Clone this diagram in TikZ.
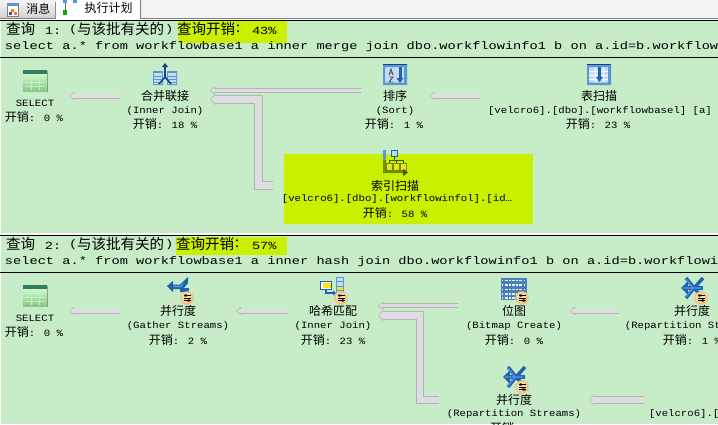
\documentclass[tikz,border=0pt]{standalone}
\usepackage{fontspec}
\usetikzlibrary{arrows.meta,calc}
\newfontfamily\cjkf{Noto Sans CJK SC}
\newfontfamily\monoA[FakeStretch=1.25]{Liberation Mono}
\newfontfamily\monoB[FakeStretch=1.11]{Liberation Mono}
\newcommand{\hd}{\cjkf\fontsize{14.5}{15}\selectfont}
\newcommand{\nm}{\cjkf\fontsize{12}{13}\selectfont}
\newcommand{\ma}{\monoA\fontsize{10.93}{11}\selectfont}
\newcommand{\mb}{\monoB\fontsize{9.6}{10}\selectfont}
\newcommand{\costtxt}[1]{{\nm 开销}{\mb: #1 \%}}
\definecolor{panel}{HTML}{C6ECC8}
\definecolor{hilite}{HTML}{C9F000}
\definecolor{arrfill}{HTML}{DEDEE2}
\definecolor{arredge}{HTML}{B4B4B4}
\definecolor{bluedk}{HTML}{1F62B0}
\definecolor{bluemd}{HTML}{5C96D8}
\definecolor{bluelt}{HTML}{C4DCF4}
\definecolor{badgeo}{HTML}{EFC480}
\definecolor{badgel}{HTML}{F8DDA8}
\definecolor{olive}{HTML}{6E8C00}
\definecolor{tblgrn}{HTML}{2F7F5F}
\tikzset{
  x=1pt,y=-1pt,
  txt/.style={inner sep=0pt,outer sep=0pt,text=black},
  oplabel/.style={inner sep=0pt,outer sep=0pt,text=black,font=\nm,minimum height=4pt},
  arrowthin/.style={draw=arredge,line width=5pt,-{Triangle[length=5pt,width=8pt]},
    postaction={draw=arrfill,line width=3.2pt,shorten >=0.8pt,-{Triangle[length=3.5pt,width=5pt]}}},
  arrowthick/.style={draw=arredge,line width=8.5pt,miter limit=10,-{Triangle[length=5pt,width=11pt]},
    postaction={draw=arrfill,line width=6.5pt,miter limit=10,shorten >=0.8pt,-{Triangle[length=4pt,width=8pt]}}},
}
% icons: x,y = top-left
\newcommand{\icotable}[2]{\begin{scope}[shift={(#1,#2)}]
  \fill[black!35!panel] (1,1) rectangle (25,22);
  \fill[top color=green!12!white,bottom color=green!50!black!45!white] (0,0) rectangle (24,21);
  \fill[tblgrn] (0,0) rectangle (24,4);
  \draw[white!70!green,line width=.5pt] (2,8)--(22,8) (2,12)--(22,12) (2,16)--(22,16) (8,4)--(8,20) (16,4)--(16,20);
\end{scope}}
\newcommand{\icomerge}[2]{\begin{scope}[shift={(#1,#2)}]
  \fill[bluemd] (0,8) rectangle (10,22) (14,8) rectangle (24,22);
  \fill[bluelt] (1,10) rectangle (9,21) (15,10) rectangle (23,21);
  \draw[bluemd,line width=.8pt] (1,13)--(9,13) (1,16)--(9,16) (1,19)--(9,19) (15,13)--(23,13) (15,16)--(23,16) (15,19)--(23,19);
  \draw[bluedk!70!black,line width=1.6pt] (6,21)--(12,14)--(18,21);
  \draw[bluedk!70!black,line width=1.6pt,-{Triangle[length=4pt,width=6pt]}] (12,14)--(12,0);
\end{scope}}
\newcommand{\icosort}[2]{\begin{scope}[shift={(#1,#2)}]
  \fill[bluelt] (0,0) rectangle (24,21);
  \fill[bluemd] (0,0) rectangle (24,3) (0,0) rectangle (2,21) (21,0) rectangle (24,21) (0,18.5) rectangle (24,21);
  \fill[bluedk!70!black] (0,0) rectangle (24,1);
  \fill[bluedk] (15.5,3) rectangle (18.5,15);
  \fill[bluedk] (13.5,14)--(20.5,14)--(17,19)--cycle;
  \draw[black!70,line width=.9pt] (6,11)--(8,5)--(10,11) (7,9)--(9,9) (6,13)--(10,13)--(6,18)--(10,18);
\end{scope}}
\newcommand{\icoscan}[2]{\begin{scope}[shift={(#1,#2)}]
  \fill[bluelt] (0,0) rectangle (24,21);
  \fill[bluemd] (0,0) rectangle (24,3) (0,0) rectangle (2,21) (21,0) rectangle (24,21) (0,18.5) rectangle (24,21);
  \fill[bluedk!70!black] (0,0) rectangle (24,1);
  \draw[white,line width=.6pt] (2,7)--(21,7) (2,11)--(21,11) (2,15)--(21,15) (8,3)--(8,18) (16,3)--(16,18);
  \fill[bluedk] (11,3) rectangle (14,14);
  \fill[bluedk] (9,13)--(16,13)--(12.5,18)--cycle;
\end{scope}}
\newcommand{\icoindex}[2]{\begin{scope}[shift={(#1,#2)}]
  \fill[bluemd] (0,0) rectangle (3,10);
  \fill[olive] (0,10) rectangle (3,23) (0,20) rectangle (22,23);
  \fill[bluelt] (8,0) rectangle (14,6);
  \draw[bluedk,line width=.5pt] (8,0) rectangle (14,6);
  \draw[olive!60!black,line width=.8pt] (11,6)--(11,10) (6,13)--(6,10)--(20,10)--(20,13) (13,10)--(13,13);
  \fill[yellow!85!olive] (3,13) rectangle (9,20) (10,13) rectangle (16,20) (17,13) rectangle (23,20);
  \draw[olive,line width=.5pt] (3,13) rectangle (9,20) (10,13) rectangle (16,20) (17,13) rectangle (23,20);
  \fill[olive!60!black] (20,19)--(25,22.5)--(20,26)--cycle;
\end{scope}}
\newcommand{\badge}[2]{\begin{scope}[shift={(#1,#2)}]
  \fill[badgeo] (0,0) circle[radius=6.8pt];
  \fill[badgel] (-.5,-.5) circle[radius=5pt];
  \draw[black,line width=.9pt] (-3.5,-2.5)--(4,-2.5) (-3.5,0)--(4,0) (-3.5,2.5)--(4,2.5);
  \fill[black] (-2.5,-3.7) rectangle (-.5,-1.3) (.5,1.3) rectangle (2.5,3.7);
\end{scope}}
\newcommand{\icogather}[2]{\begin{scope}[shift={(#1,#2)}]
  \fill[bluedk] (0,9)--(6,4)--(6,7.5)--(13,7.5)--(21,0)--(21,6)--(16,12)--(6,12)--(6,15)--cycle;
  \fill[bluemd] (6,8.5)--(14,8.5)--(17,5)--(15,10)--(6,10)--cycle;
  \fill[bluedk] (13,11)--(22,11)--(22,15)--(13,15)--cycle;
\end{scope}}
\newcommand{\icohash}[2]{\begin{scope}[shift={(#1,#2)}]
  \fill[white] (0,4) rectangle (11,12);
  \fill[yellow!90!orange] (3,6) rectangle (11,11);
  \draw[bluedk,line width=.8pt] (0,4) rectangle (11,12);
  \draw[bluedk,line width=1.6pt,-{Triangle[length=3pt,width=5pt]}] (6,12)--(6,16)--(16,16);
  \fill[bluelt] (16,0) rectangle (23,20);
  \fill[yellow!95!black] (16,9) rectangle (23,13);
  \draw[bluemd,line width=.7pt] (16,0) rectangle (23,20) (16,4.5)--(23,4.5) (16,9)--(23,9) (16,13)--(23,13) (16,17)--(23,17);
\end{scope}}
\newcommand{\icobitmap}[2]{\begin{scope}[shift={(#1,#2)}]
  \fill[bluemd!85!black] (0,0) rectangle (26,22);
  \foreach \r in {2.5,7,11.5,16,20}{\draw[white!85!bluemd,line width=1.2pt,dash pattern=on 1.4pt off 1.4pt on 3pt off 1.4pt] (1,\r)--(25,\r);}
\end{scope}}
\newcommand{\icorepart}[2]{\begin{scope}[shift={(#1,#2)}]
  \draw[bluedk,line width=3.4pt] (5,0)--(13,10)--(5,20) (22,0)--(13,10)--(22,20);
  \draw[bluedk,line width=3.4pt,-{Triangle[length=7pt,width=13pt]}] (22,10)--(0,10);
  \draw[bluemd,line width=1.2pt] (5,1)--(12,10) (5,19)--(12,10) (2,10)--(20,10);
\end{scope}}
\begin{document}
\begin{tikzpicture}
\useasboundingbox (0,0) rectangle (718,424);
\clip (0,0) rectangle (718,424);
% window chrome
\fill[white] (0,0) rectangle (718,424);
\fill[black!5] (0,0) rectangle (718,19);
\fill[panel] (1,20) rectangle (718,233);
\fill[panel] (1,235) rectangle (718,424);
\fill[black!3] (0,233) rectangle (718,235);
\fill[top color=black!5,bottom color=black!18] (0,2) rectangle (55,18);
\draw[black!45,line width=.7pt] (55,2)--(55,18);
\fill[white] (56,0) rectangle (140,19);
\draw[black!50,line width=.8pt] (140,0)--(140,18.5)--(718,18.5) (0,18.5)--(56,18.5);
\draw[black,line width=.9pt] (0,20.2)--(718,20.2);
\draw[black,line width=.9pt] (0,57.5)--(718,57.5);
\draw[black,line width=.9pt] (0,235.2)--(718,235.2);
\draw[black,line width=.9pt] (0,272.5)--(718,272.5);
% tab icons
\fill[white] (7,3) rectangle (18,16);
\draw[black!50,line width=.5pt] (7,3) rectangle (18,16);
\fill[bluemd] (7,3) rectangle (18,6);
\fill[orange] (11,9) rectangle (14,12);
\fill[red!60!white] (14,12) rectangle (17,15);
\fill[bluedk] (9,12) rectangle (12,15);
\fill[bluemd] (63,0) rectangle (67,3);
\fill[bluemd] (73,0) rectangle (77,3);
\draw[black!60,line width=.6pt] (65,3)--(65,10);
\fill[green!70!black] (63,10) rectangle (67,15);
% tabs text
\node[txt,font=\nm] (tabmsg) at (38.5,9) {消息};
\node[txt,font=\nm] (tabplan) at (108.5,8) {执行计划};
% highlights
\fill[hilite] (178,21) rectangle (287,43);
\fill[hilite] (176,237) rectangle (287,255);
\fill[hilite] (284,154) rectangle (533,224);
% header 1
\node[txt,font=\hd,anchor=west] (h1a) at (6,29) {查询};
\node[txt,font=\ma,anchor=west] (h1b) at (45,30.5) {1:};
\node[txt,font=\ma,anchor=west] (h1c) at (69,30) {(};
\node[txt,font=\hd,anchor=west] (h1d) at (77,29) {与该批有关的};
\node[txt,font=\ma,anchor=west] (h1e) at (165,30) {)};
\node[txt,font=\hd,anchor=west] (h1f) at (177,29) {查询开销};
\node[txt,font=\hd,anchor=west] (h1g) at (236,29) {:};
\node[txt,font=\ma,anchor=west] (h1h) at (252,30.5) {43\%};
\node[txt,font=\ma,anchor=west] (s1) at (5,47) {select a.* from workflowbase1 a inner merge join dbo.workflowinfo1 b on a.id=b.workflow};
% header 2
\node[txt,font=\hd,anchor=west] (h2a) at (6,244) {查询};
\node[txt,font=\ma,anchor=west] (h2b) at (45,245.5) {2:};
\node[txt,font=\ma,anchor=west] (h2c) at (69,245) {(};
\node[txt,font=\hd,anchor=west] (h2d) at (77,244) {与该批有关的};
\node[txt,font=\ma,anchor=west] (h2e) at (165,245) {)};
\node[txt,font=\hd,anchor=west] (h2f) at (176,244) {查询开销};
\node[txt,font=\hd,anchor=west] (h2g) at (235,244) {:};
\node[txt,font=\ma,anchor=west] (h2h) at (252,245.5) {57\%};
\node[txt,font=\ma,anchor=west] (s2) at (5,262) {select a.* from workflowbase1 a inner hash join dbo.workflowinfo1 b on a.id=b.workflowi};
% icons query 1
\icotable{23}{70}
\icomerge{153}{63}
\icosort{383}{64}
\icoscan{587}{64}
\icoindex{383}{150}
% icons query 2
\icotable{23}{285}
\icogather{167}{277}\badge{187}{298}
\icohash{320}{277}\badge{341}{298}
\icobitmap{501}{278}\badge{522}{298}
\icorepart{681}{278}\badge{701}{298}
\icorepart{503}{367}\badge{522}{387}
% operators query 1
\node[txt,font=\mb,minimum width=68pt] (selA) at (35,103) {SELECT};
\node[txt] (selAc) at (34,117) {\costtxt{0}};
\node[oplabel,minimum width=90pt] (merge) at (165,96) {合并联接};
\node[txt,font=\mb] (mergeb) at (165,111) {(Inner Join)};
\node[txt] (mergec) at (165,124) {\costtxt{18}};
\node[oplabel,minimum width=68pt] (sort) at (395,96) {排序};
\node[txt,font=\mb] (sortb) at (395,111) {(Sort)};
\node[txt] (sortc) at (394,124) {\costtxt{1}};
\node[oplabel,minimum width=238pt] (scan) at (599,96) {表扫描};
\node[txt,font=\mb] (scanb) at (600,111) {[velcro6].[dbo].[workflowbasel] [a]};
\node[txt] (scanc) at (598,124) {\costtxt{23}};
\node[oplabel,minimum width=244pt] (idx) at (395,185.5) {索引扫描};
\node[txt,font=\mb] (idxb) at (397,199) {[velcro6].[dbo].[workflowinfol].[id…};
\node[txt] (idxc) at (395,213) {\costtxt{58}};
% operators query 2
\node[txt,font=\mb,minimum width=68pt] (selB) at (35,318.5) {SELECT};
\node[txt] (selBc) at (34,332) {\costtxt{0}};
\node[oplabel,minimum width=116pt] (gather) at (178,311) {并行度};
\node[txt,font=\mb] (gatherb) at (178,326.5) {(Gather Streams)};
\node[txt] (gatherc) at (178,339.5) {\costtxt{2}};
\node[oplabel,minimum width=90pt] (hash) at (333,311) {哈希匹配};
\node[txt,font=\mb] (hashb) at (333,326.5) {(Inner Join)};
\node[txt] (hashc) at (333,339.5) {\costtxt{23}};
\node[oplabel,minimum width=112pt] (bitmap) at (514,311) {位图};
\node[txt,font=\mb] (bitmapb) at (514,326.5) {(Bitmap Create)};
\node[txt] (bitmapc) at (514,339.5) {\costtxt{0}};
\node[oplabel,minimum width=146pt] (rep) at (692,311) {并行度};
\node[txt,font=\mb] (repb) at (692,326.5) {(Repartition Streams)};
\node[txt] (repc) at (692,339.5) {\costtxt{1}};
\node[oplabel,minimum width=150pt] (repp) at (514,400) {并行度};
\node[txt,font=\mb] (reppb) at (514,414) {(Repartition Streams)};
\node[txt,font=\nm] (reppc) at (502,427.5) {开销};
\node[txt,font=\mb,anchor=west,inner xsep=5pt] (scanB) at (644,414) {[velcro6].[};
% connectors query 1
\coordinate (e1) at (258.5,99.5);
\coordinate (e2) at (420,315.7);
\draw[arrowthin] ([yshift=7pt]selA.east -| merge.west) -- ([yshift=7pt]selA.east);
\draw[arrowthin] (scan.west) -- (sort.east);
\draw[arrowthin] ([yshift=5.5pt]sort.west) -- ([yshift=5.5pt]merge.east);
\draw[arrowthick] (idx.west) -| (e1) -- ([yshift=-3.5pt]merge.east);
% connectors query 2
\draw[arrowthin] ([yshift=7.5pt]selB.east -| gather.west) -- ([yshift=7.5pt]selB.east);
\draw[arrowthin] (hash.west) -- (gather.east);
\draw[arrowthin] (rep.west) -- (bitmap.east);
\draw[arrowthin] ([yshift=5.3pt]bitmap.west) -- ([yshift=5.3pt]hash.east);
\draw[arrowthick] (repp.west) -| (e2) -- ([yshift=-4.7pt]hash.east);
\draw[arrowthick] ([yshift=14pt]scanB.west) -- (repp.east);
\end{tikzpicture}
\end{document}
